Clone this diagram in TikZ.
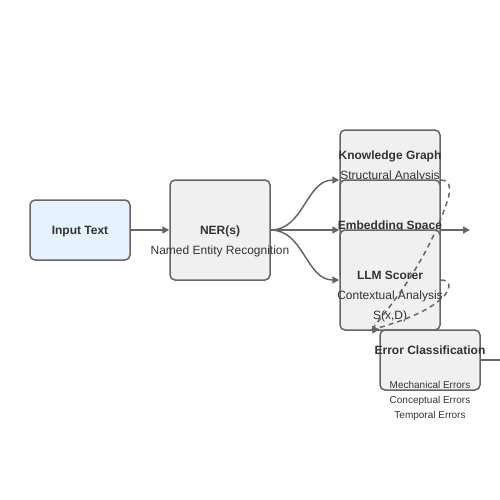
\documentclass[tikz,border=0pt]{standalone}
\usepackage{fontspec}
\setmainfont{Liberation Sans}
\usetikzlibrary{arrows.meta}
\definecolor{edgegray}{HTML}{666666}
\definecolor{boxgray}{HTML}{F0F0F0}
\definecolor{inblue}{HTML}{E6F2FF}
\definecolor{txtgray}{HTML}{333333}

\begin{document}
\begin{tikzpicture}[x=1pt,y=-1pt,
	every node/.style={text=txtgray,font=\fontsize{12}{14}\selectfont,text height=9pt,text depth=0pt},
	box/.style={draw=edgegray,line width=1.5pt,fill=boxgray,rounded corners=5pt,minimum width=100pt,minimum height=100pt,inner sep=0pt},
	ttl/.style={font=\bfseries\fontsize{12}{14}\selectfont},
	small/.style={font=\fontsize{10}{12}\selectfont,text height=7.4pt},
	link/.style={draw=edgegray,line width=1.5pt,-{Triangle[length=7pt,width=7pt]}},
	dlink/.style={link,dash pattern=on 5pt off 4pt}]
	\useasboundingbox (0,0) rectangle (500,500);
	\node[box,fill=inblue,minimum height=60pt] (inp) at (80,230) {\bfseries Input Text};
	\node[box] (ner) at (220,230) {\bfseries NER(s)};
	\node (nerS) at (220,250) {Named Entity Recognition};
	\node[box] (kg) at (390,180) {};
	\node[ttl] (kgT) at (390,155) {Knowledge Graph};
	\node (kgS) at (390,175) {Structural Analysis};
	\node[box] (emb) at (390,230) {};
	\node[ttl] (embT) at (390,225) {Embedding Space};
	\node[box] (llm) at (390,280) {};
	\node[ttl] (llmT) at (390,275) {LLM Scorer};
	\node (llmS) at (390,295) {Contextual Analysis};
	\node (llmX) at (390,315) {S(x,D)};
	\node[box,minimum height=60pt] (err) at (430,360) {};
	\node[ttl] (errT) at (430,350) {Error Classification};
	\node[small] (errA) at (430,385) {Mechanical Errors};
	\node[small] (errB) at (430,400) {Conceptual Errors};
	\node[small] (errC) at (430,415) {Temporal Errors};
	\coordinate (embOut) at (470,230);
	\coordinate (errOut) at (500,360);
	\foreach \from/\to in {inp/ner,ner/emb,emb/embOut}
		\draw[link] (\from) -- (\to);
	\foreach \to in {kg,llm}
		\draw[link] (ner.east) to[out=0,in=180] (\to.west);
	\draw[edgegray,line width=1.5pt] (err) -- (errOut);
	% feedback into the error classes
	\draw[dlink] (kg.east) .. controls (452,180) and (451,192) .. (446,205)
		.. controls (420,280) and (368,330) .. (err.north west);
	\draw[dlink] (llm.east) .. controls (452,280) and (450,288) .. (445,295)
		.. controls (425,318) and (368,330) .. (err.north west);
\end{tikzpicture}
\end{document}
